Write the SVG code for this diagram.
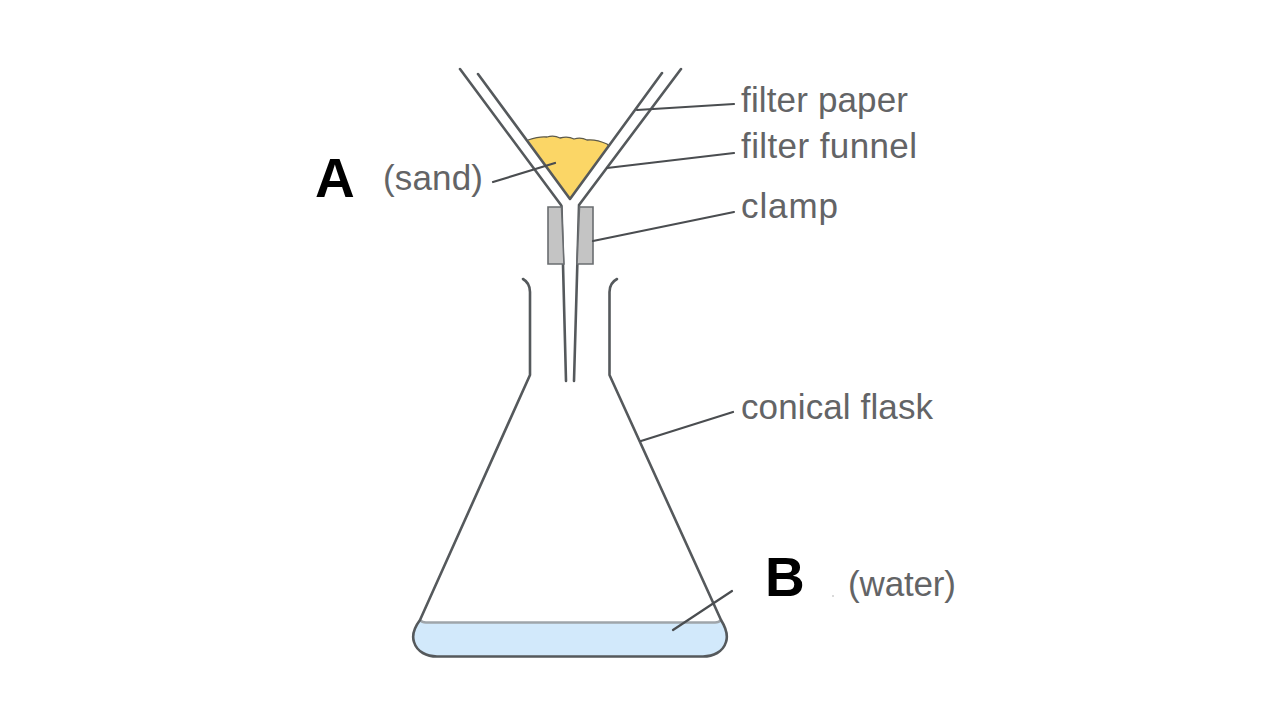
<svg xmlns="http://www.w3.org/2000/svg" width="1280" height="720" viewBox="0 0 1280 720">
<style>
.l{fill:none;stroke:#55595c;stroke-width:2.6;stroke-linecap:round;stroke-linejoin:round}
.c{fill:none;stroke:#4a4d50;stroke-width:2.2;stroke-linecap:round}
.t{font-family:"Liberation Sans",Arial,sans-serif;font-size:35px;fill:#636466}
.b{font-family:"Liberation Sans",Arial,sans-serif;font-size:55px;font-weight:bold;fill:#000}
</style>
<rect width="1280" height="720" fill="#fff"/>
<g id="water">
<path d="M420 622H721C726 628 728 636 726 642C723 652 713 656.500 703 656.500H437C427 656.500 417 652 414 642C412 636 414 628 420 622Z" fill="#d2e9fb"/>
<path d="M420 620Q422 622.500 426 622.500H715Q719 622.500 721 620" fill="none" stroke="#9fa5aa" stroke-width="2.6"/>
</g>
<g id="flask">
<path class="l" d="M523 279Q530 283 530 292V375L420 620C414 628 412 636 414 642C417 652 427 656.500 437 656.500H703C713 656.500 723 652 726 642C728 636 726 628 721 620L609.500 375V292Q609.500 283 617 279"/>
</g>
<g id="sand">
<path d="M528 140L570 200L609 146L607 144Q596 139 587 140Q581 137 574 139Q568 136 560 138Q554 135 547 137Q540 136 528 140Z" fill="#fbd666"/>
<path d="M528 140Q540 136 547 137Q554 135 560 138Q568 136 574 139Q581 137 587 140Q596 139 607 144L609 146" fill="none" stroke="#5d5a4a" stroke-width="1.3"/>
</g>
<g id="funnel">
<path class="l" d="M460 69L561 205M478 74L570 199L662 73M681 69L579 205"/>
<path class="l" d="M561.500 206L566 381M579 206L574 381"/>
</g>
<g id="clamp">
<path d="M548 207H561.500L564 264H548Z" fill="#c4c4c4" stroke="#6a6d70" stroke-width="1.6"/>
<path d="M579.500 207H593V264H577Z" fill="#c4c4c4" stroke="#6a6d70" stroke-width="1.6"/>
</g>
<g id="connectors">
<path class="c" d="M637 110L734 104M607 168L734 153M593 241L734 212M493 182L555 163M641 441L733 412M673 630L732 591"/>
</g>
<g id="labels">
<text class="t" x="741" y="112" textLength="167">filter paper</text>
<text class="t" x="741" y="158" textLength="176">filter funnel</text>
<text class="t" x="741" y="218" textLength="97">clamp</text>
<text class="t" x="741" y="419" textLength="192">conical flask</text>
<text class="t" x="383" y="190" textLength="100">(sand)</text>
<text class="t" x="848" y="596" textLength="108">(water)</text>
<text class="b" x="315" y="197">A</text>
<text class="b" x="765" y="596">B</text>
<circle cx="833" cy="596" r="0.7" fill="#999"/>
</g>
</svg>
